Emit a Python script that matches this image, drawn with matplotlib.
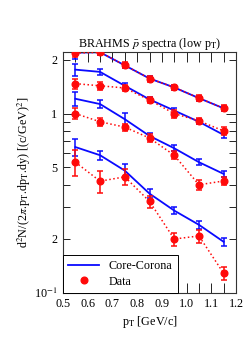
import numpy as np
import matplotlib; matplotlib.use("Agg")
import matplotlib.pyplot as plt
from matplotlib.ticker import FixedLocator, FixedFormatter, MultipleLocator
from matplotlib.lines import Line2D

plt.rcParams["font.family"] = ["Liberation Serif", "DejaVu Serif"]
plt.rcParams["mathtext.fontset"] = "stix"

pt = [0.55, 0.65, 0.75, 0.85, 0.95, 1.05, 1.15]

# Core-Corona model curves (top to bottom) and their errors
m1 = [2.19, 2.20, 1.86, 1.57, 1.40, 1.22, 1.07]
m1e = [0.17, 0.08, 0.06, 0.05, 0.04, 0.04, 0.035]
m2 = [1.76, 1.71, 1.43, 1.20, 1.04, 0.90, 0.76]
m2e = [0.13, 0.07, 0.05, 0.04, 0.035, 0.03, 0.03]
m3 = [1.21, 1.13, 0.93, 0.75, 0.64, 0.535, 0.46]
m3e = [0.11, 0.06, 0.08, 0.03, 0.025, 0.02, 0.02]
m4 = [0.65, 0.585, 0.48, 0.357, 0.287, 0.239, 0.192]
m4e = [0.07, 0.035, 0.045, 0.02, 0.014, 0.012, 0.01]

# BRAHMS data
d1 = [2.18, 2.20, 1.86, 1.57, 1.40, 1.22, 1.07]
d1e = [0.12, 0.08, 0.07, 0.06, 0.05, 0.05, 0.04]
d2 = [1.47, 1.43, 1.39, 1.19, 1.00, 0.91, 0.80]
d2e = [0.09, 0.07, 0.06, 0.05, 0.05, 0.04, 0.04]
d3 = [1.00, 0.90, 0.84, 0.73, 0.585, 0.40, 0.42]
d3e = [0.07, 0.05, 0.04, 0.04, 0.03, 0.025, 0.02]
d4 = [0.535, 0.419, 0.443, 0.323, 0.199, 0.207, 0.128]
d4e = [0.09, 0.06, 0.045, 0.025, 0.017, 0.017, 0.01]

models = [(m1, m1e), (m2, m2e), (m3, m3e), (m4, m4e)]
datas = [(d1, d1e), (d2, d2e), (d3, d3e), (d4, d4e)]
FS = 8.7

fig = plt.figure(figsize=(2.49, 3.47), dpi=100)
ax = fig.add_axes([63/249, 1-292.5/347, 173/249, (292.5-52.3)/347])

for y, e in models:
    ax.errorbar(pt, y, yerr=e, color="#0a0aff", lw=1.3, elinewidth=1.1, capsize=2.3, capthick=1.1, zorder=2)
for y, e in datas:
    ax.errorbar(pt, y, yerr=e, color="#ff0a0a", ls=":", lw=1.1, marker="o", ms=4.8, elinewidth=1.1,
                capsize=2.3, capthick=1.1, zorder=3)

ax.set_yscale("log")
ax.set_xlim(0.5, 1.2); ax.set_ylim(0.1, 2.2)
ax.xaxis.set_major_locator(MultipleLocator(0.1)); ax.xaxis.set_minor_locator(MultipleLocator(0.05))
ax.xaxis.set_major_formatter(plt.FormatStrFormatter("%.1f"))
ax.yaxis.set_major_locator(FixedLocator([0.1, 1]))
ax.yaxis.set_major_formatter(FixedFormatter(["10$^{-1}$", "1"]))
mn = [0.2, 0.3, 0.4, 0.5, 0.6, 0.7, 0.8, 0.9, 2]
ax.yaxis.set_minor_locator(FixedLocator(mn))
ax.yaxis.set_minor_formatter(FixedFormatter(["2", "", "", "5", "", "", "", "", "2"]))
ax.tick_params(which="both", direction="in", top=True, right=True, labelsize=FS, width=0.6, pad=4)
ax.tick_params(which="major", length=7)
ax.tick_params(axis="x", which="minor", length=7)
ax.tick_params(axis="y", which="minor", length=5)
for s in ax.spines.values(): s.set_linewidth(0.8); s.set_color("#333333")

ax.set_title(r"BRAHMS $\bar{p}$ spectra (low p$_\mathrm{T}$)", fontsize=FS, pad=4)
ax.set_xlabel(r"p$_\mathrm{T}$ [GeV/c]", fontsize=FS, labelpad=3)
ax.set_ylabel(r"d$^2$N/(2$\pi$.p$_\mathrm{T}$.dp$_\mathrm{T}$.dy) [(c/GeV)$^2$]", fontsize=FS, labelpad=1)

h = [Line2D([], [], color="#0a0aff", lw=1.3), Line2D([], [], color="#ff0a0a", ls="", marker="o", ms=4.8)]
leg = ax.legend(h, ["Core-Corona", "Data"], loc="lower left", fontsize=FS, fancybox=False, borderaxespad=0,
                edgecolor="black", framealpha=1, handlelength=2.6, labelspacing=0.3, borderpad=0.4)
leg.get_frame().set_linewidth(0.7)

fig.savefig("out.png", dpi=100)
